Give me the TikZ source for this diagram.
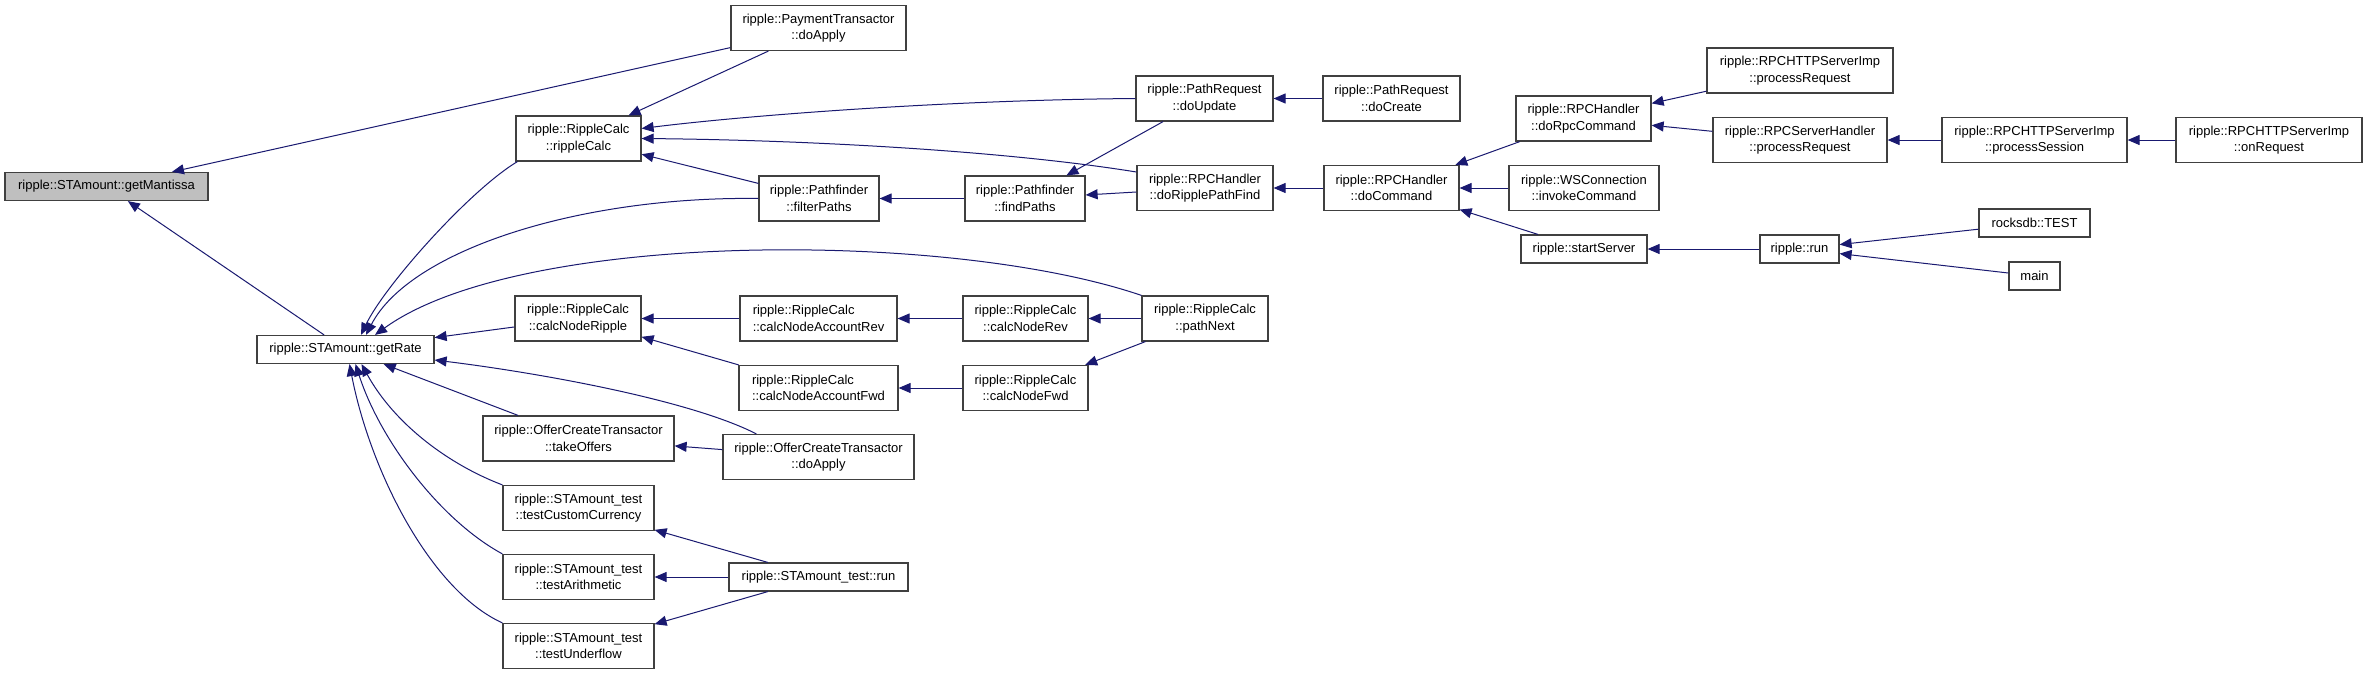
\documentclass[tikz,border=0pt]{standalone}
\usepackage{fontspec}
\setmainfont{Liberation Sans}
\usepackage{tikz}
\usetikzlibrary{arrows.meta}
\definecolor{callblue}{HTML}{191970}
\definecolor{focusgray}{HTML}{BFBFBF}

\begin{document}
\begin{tikzpicture}[x=1pt, y=-1pt,
	fn/.style={draw=black!75, line width=1.2pt, rectangle, fill=white, inner sep=0pt, minimum height=45pt, align=center, font=\fontsize{13}{16.5}\selectfont},
	fn1/.style={fn, minimum height=28pt},
	call/.style={draw=callblue, line width=1pt, {Triangle[length=12pt,width=10pt]}-}]
				\useasboundingbox[fill=white] (0,0) rectangle (2368,675);

				\node[fn1, fill=focusgray, minimum width=203pt] (mantissa) at (106.5,186.5) {ripple::STAmount::getMantissa};
				\node[fn1, minimum width=177pt] (rate) at (345.5,349.5) {ripple::STAmount::getRate};
				\node[fn, minimum width=125pt] (ripplecalc) at (578.5,138.5) {ripple::RippleCalc\\::rippleCalc};
				\node[fn, minimum width=126pt] (noderipple) at (578,318.5) {ripple::RippleCalc\\::calcNodeRipple};
				\node[fn, minimum width=191pt] (takeoffers) at (578.5,438.5) {ripple::OfferCreateTransactor\\::takeOffers};
				\node[fn, minimum width=151pt] (testcustom) at (578.5,508) {ripple::STAmount\_test\\::testCustomCurrency};
				\node[fn, minimum width=151pt] (testarith) at (578.5,577) {ripple::STAmount\_test\\::testArithmetic};
				\node[fn, minimum width=151pt] (testunder) at (578.5,646) {ripple::STAmount\_test\\::testUnderflow};
				\node[fn, minimum width=175pt] (paydoapply) at (818.5,28) {ripple::PaymentTransactor\\::doApply};
				\node[fn, minimum width=120pt] (filterpaths) at (819,198.5) {ripple::Pathfinder\\::filterPaths};
				\node[fn, minimum width=157pt, align=left] (accountrev) at (818.5,318.5) {ripple::RippleCalc\\::calcNodeAccountRev};
				\node[fn, minimum width=159pt, align=left] (accountfwd) at (818.5,388) {ripple::RippleCalc\\::calcNodeAccountFwd};
				\node[fn, minimum width=191pt] (offerdoapply) at (818.5,457) {ripple::OfferCreateTransactor\\::doApply};
				\node[fn1, minimum width=179pt] (testrun) at (818.5,577) {ripple::STAmount\_test::run};
				\node[fn, minimum width=120pt] (findpaths) at (1025,198.5) {ripple::Pathfinder\\::findPaths};
				\node[fn, minimum width=125pt] (noderev) at (1025.5,318.5) {ripple::RippleCalc\\::calcNodeRev};
				\node[fn, minimum width=125pt] (nodefwd) at (1025.5,388) {ripple::RippleCalc\\::calcNodeFwd};
				\node[fn, minimum width=137pt] (doupdate) at (1204.5,98.5) {ripple::PathRequest\\::doUpdate};
				\node[fn, minimum width=136pt] (pathfind) at (1205,188) {ripple::RPCHandler\\::doRipplePathFind};
				\node[fn, minimum width=126pt] (pathnext) at (1205,318.5) {ripple::RippleCalc\\::pathNext};
				\node[fn, minimum width=137pt] (docreate) at (1391.5,98.5) {ripple::PathRequest\\::doCreate};
				\node[fn, minimum width=135pt] (docommand) at (1391.5,188) {ripple::RPCHandler\\::doCommand};
				\node[fn, minimum width=135pt] (dorpc) at (1583.5,118.5) {ripple::RPCHandler\\::doRpcCommand};
				\node[fn, minimum width=150pt] (invoke) at (1584,188) {ripple::WSConnection\\::invokeCommand};
				\node[fn1, minimum width=126pt] (startserver) at (1584,249) {ripple::startServer};
				\node[fn, minimum width=186pt] (httprequest) at (1800,70.5) {ripple::RPCHTTPServerImp\\::processRequest};
				\node[fn, minimum width=174pt] (handlerrequest) at (1800,140) {ripple::RPCServerHandler\\::processRequest};
				\node[fn1, minimum width=79pt] (run) at (1799.5,249) {ripple::run};
				\node[fn, minimum width=185pt] (session) at (2034.5,140) {ripple::RPCHTTPServerImp\\::processSession};
				\node[fn1, minimum width=111pt] (rockstest) at (2034.5,223) {rocksdb::TEST};
				\node[fn1, minimum width=51pt] (main) at (2034.5,276) {main};
				\node[fn, minimum width=186pt] (onrequest) at (2269,140) {ripple::RPCHTTPServerImp\\::onRequest};

				\draw[call] (mantissa) -- (paydoapply);
				\draw[call] (mantissa) -- (rate);
				\draw[call] ([xshift=15.5pt]rate.north) .. controls (385,285) and (470,190) .. ([xshift=2pt]ripplecalc.south west);
				\draw[call] ([xshift=20.5pt]rate.north) .. controls (410,250) and (580,196) .. (filterpaths.west);
				\draw[call] ([xshift=29.5pt]rate.north) .. controls (520,230) and (950,230) .. (pathnext.north west);
				\draw[call] (rate) -- (noderipple);
				\draw[call] ([yshift=-10.5pt]rate.east) .. controls (540,373) and (690,400) .. ([xshift=34pt]offerdoapply.north west);
				\draw[call] (rate) -- (takeoffers);
				\draw[call] ([xshift=16pt]rate.south) .. controls (395,425) and (450,465) .. (testcustom.north west);
				\draw[call] ([xshift=10pt]rate.south) .. controls (380,440) and (440,520) .. (testarith.north west);
				\draw[call] ([xshift=4pt]rate.south) .. controls (370,470) and (430,590) .. (testunder.north west);
				\draw[call] (ripplecalc) -- (paydoapply);
				\draw[call] ([yshift=10pt]ripplecalc.east) .. controls (750,115) and (950,100) .. (doupdate.west);
				\draw[call] (ripplecalc.east) .. controls (800,140) and (1000,150) .. ([yshift=16pt]pathfind.west);
				\draw[call] (ripplecalc) -- (filterpaths);
				\draw[call] (noderipple) -- (accountrev);
				\draw[call] (noderipple) -- (accountfwd);
				\draw[call] (takeoffers) -- (offerdoapply);
				\draw[call] (testcustom) -- (testrun);
				\draw[call] (testarith) -- (testrun);
				\draw[call] (testunder) -- (testrun);
				\draw[call] (filterpaths) -- (findpaths);
				\draw[call] (accountrev) -- (noderev);
				\draw[call] (accountfwd) -- (nodefwd);
				\draw[call] (findpaths) -- (doupdate);
				\draw[call] (findpaths) -- (pathfind);
				\draw[call] (noderev) -- (pathnext);
				\draw[call] (nodefwd) -- (pathnext);
				\draw[call] (doupdate) -- (docreate);
				\draw[call] (pathfind) -- (docommand);
				\draw[call] (docommand) -- (dorpc);
				\draw[call] (docommand) -- (invoke);
				\draw[call] (docommand) -- (startserver);
				\draw[call] (dorpc) -- (httprequest);
				\draw[call] (dorpc) -- (handlerrequest);
				\draw[call] (startserver) -- (run);
				\draw[call] (handlerrequest) -- (session);
				\draw[call] (session) -- (onrequest);
				\draw[call] (run) -- (rockstest);
				\draw[call] (run) -- (main);
			\end{tikzpicture}
\end{document}
